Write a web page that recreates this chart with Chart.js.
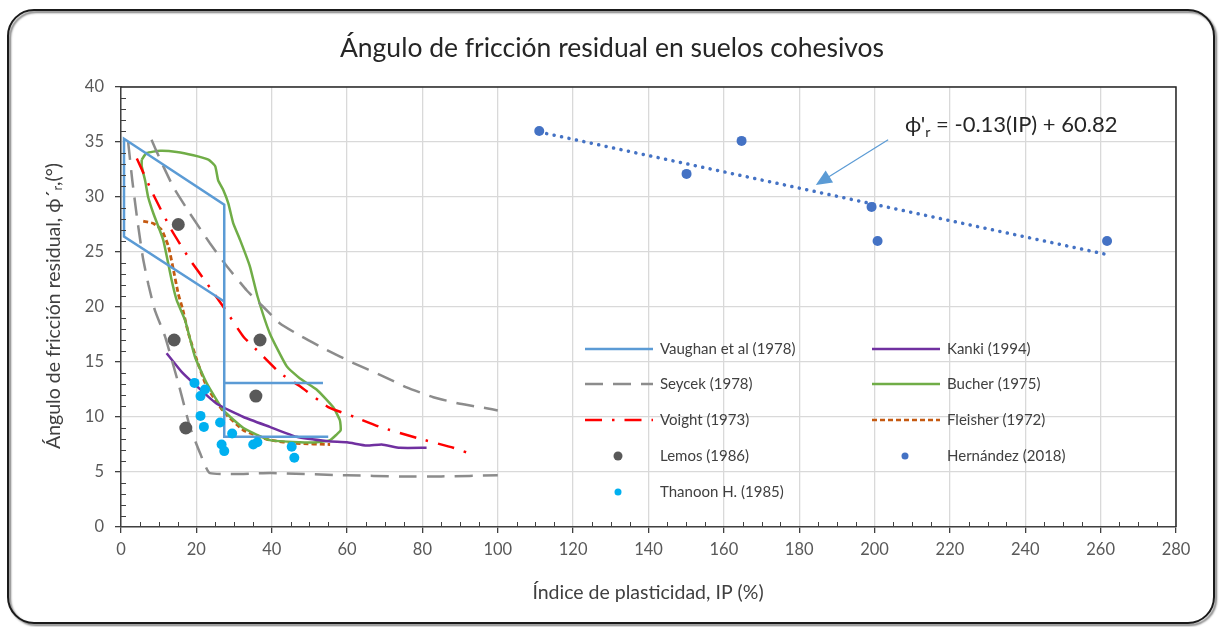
<!DOCTYPE html>
<html lang="es">
<head>
<meta charset="utf-8">
<title>Ángulo de fricción residual</title>
<script src="https://cdn.jsdelivr.net/npm/chart.js@4.4.1/dist/chart.umd.min.js"></script>
<style>
  html, body { margin: 0; padding: 0; background: #fff; }
  canvas { display: block; }
</style>
</head>
<body>
<canvas id="friccion" width="1220" height="627"></canvas>
<script>
// curvas de referencia [IP, phi'r]
const vaughan = [[55, 8.2], [27.4, 8.2], [27.4, 29.3], [0.8, 35.3], [0.8, 26.4], [27.4, 20.5], null, [27.4, 13.1], [53.6, 13.1]];
const seycekSup = [[8.1, 35.2], [10.4, 33.4], [13.9, 30.9], [18.3, 28.5], [23.6, 25.8], [28.1, 23.7], [33.4, 21.5], [37.8, 20.0], [42.2, 18.5], [48, 17.3], [54.6, 16.1], [61.7, 14.9], [69.6, 13.7], [75.8, 12.7], [82.9, 11.8], [90, 11.2], [97, 10.8], [100, 10.6]];
const seycekInf = [[1.9, 35], [3, 31.5], [4.3, 28], [5.8, 24.5], [7.3, 22], [9, 19.7], [11.7, 17.3], [15.2, 13.1], [18.3, 9.1], [21, 6.7], [23.6, 4.9], [40, 4.9], [60, 4.7], [74, 4.6], [85, 4.6], [100, 4.7]];
const voight = [[4.2, 33.5], [8.6, 30.2], [13.4, 27.0], [18.3, 24.3], [22.7, 22.2], [27.2, 20.0], [32.5, 17.3], [36.9, 15.8], [42.2, 14.0], [47.5, 12.8], [55, 10.9], [62, 10.0], [68.7, 9.1], [78.5, 8.1], [88.2, 7.2], [94, 6.5]];
const fleisher = [[5.9, 27.8], [8.6, 27.6], [10.8, 27.0], [12.6, 25.5], [13.9, 23.4], [15.2, 21.2], [16.3, 19.9], [17.9, 17.6], [20.1, 15.2], [22.7, 12.8], [27.2, 10.5], [32.5, 8.8], [39.5, 7.9], [46.6, 7.6], [55.5, 7.5]];
const bucher = [[5.5, 33.4], [6.8, 34], [10.4, 34.2], [14.8, 34.1], [19.2, 33.8], [23.2, 33.4], [25, 32.8], [25.8, 31.5], [27.2, 30.6], [28.5, 29.4], [29.8, 27.6], [31.6, 26.1], [34.2, 23.7], [36.2, 21], [39.5, 17.6], [44, 14.6], [47.5, 13.5], [51.9, 12.5], [56.3, 10.9], [58.1, 9.7], [58.3, 8.8], [57.2, 8.4], [55.5, 7.9], [51.9, 7.7], [47.5, 7.7], [39.5, 7.9], [32.5, 9], [27.2, 10.6], [22.7, 13.1], [19.6, 15.5], [17, 18.8], [14.8, 20.6], [13.4, 22.5], [11.2, 26.1], [8.6, 28.5], [7.2, 30], [6.4, 31.5], [5.5, 32.8], [5.5, 33.4]];
const kanki = [[12.1, 15.8], [16.1, 14.1], [20.1, 12.8], [25.4, 11.2], [32.5, 10], [39.5, 9.1], [46.6, 8.2], [55, 7.8], [60, 7.7], [65.2, 7.4], [69.2, 7.5], [74, 7.2], [81.1, 7.2]];

// ensayos
const lemos = [[15.2, 27.5], [14.1, 17], [36.9, 17], [35.8, 11.9], [17.2, 9.0]];
const thanoon = [[19.5, 13.1], [22.3, 12.5], [21.1, 11.9], [21.1, 10.1], [22, 9.1], [26.3, 9.5], [29.5, 8.5], [26.7, 7.5], [27.4, 6.9], [35.1, 7.5], [36.2, 7.7], [45.3, 7.3], [46, 6.3]];
const hernandez = [[111, 36], [150.1, 32.1], [164.7, 35.1], [199.2, 29.1], [200.8, 26], [261.7, 26]];

const xTicks = [0, 20, 40, 60, 80, 100, 120, 140, 160, 180, 200, 220, 240, 260, 280];
const yTicks = [0, 5, 10, 15, 20, 25, 30, 35, 40];

const FONT = 'Lato, "Open Sans", sans-serif';

const toPts = arr => arr.map(p => p ? { x: p[0], y: p[1] } : { x: 27.4, y: null });

// recta de ajuste por mínimos cuadrados sobre los puntos de Hernández
function trendLine(pts) {
  const n = pts.length;
  const mx = pts.reduce((s, p) => s + p[0], 0) / n;
  const my = pts.reduce((s, p) => s + p[1], 0) / n;
  let sxy = 0, sxx = 0;
  pts.forEach(p => { sxy += (p[0] - mx) * (p[1] - my); sxx += (p[0] - mx) ** 2; });
  const m = sxy / sxx, b = my - m * mx;
  const xs = pts.map(p => p[0]);
  const x0 = Math.min(...xs), x1 = Math.max(...xs);
  return [[x0, m * x0 + b], [x1, m * x1 + b]];
}

const lineDs = (label, data, color, dash, extra) => Object.assign({
  label, data: toPts(data), showLine: true, borderColor: color, borderWidth: 2.5,
  borderDash: dash, pointRadius: 0, fill: false, tension: 0.15, order: 2
}, extra || {});

const dotDs = (label, data, color, r) => ({
  label, data: toPts(data), showLine: false, backgroundColor: color, borderColor: color,
  pointRadius: r, pointBorderWidth: 0, order: 1
});

const datasets = [
  lineDs('Vaughan et al (1978)', vaughan, '#5b9bd5', [], { tension: 0 }),
  lineDs('Seycek (1978)', seycekSup, '#8c8c8c', [18, 10]),
  lineDs('Seycek inf', seycekInf, '#8c8c8c', [18, 10]),
  lineDs('Voight (1973)', voight, '#ff0000', [17, 10, 2.5, 10]),
  lineDs('Kanki (1994)', kanki, '#7030a0', []),
  lineDs('Bucher (1975)', bucher, '#70ad47', []),
  lineDs('Fleisher (1972)', fleisher, '#c55a11', [5, 3], { borderWidth: 2.8 }),
  lineDs('Tendencia', trendLine(hernandez), '#4472c4', [0.1, 7.5], { borderWidth: 3.5, borderCapStyle: 'round', tension: 0 }),
  dotDs('Lemos (1986)', lemos, '#595959', 6.5),
  dotDs('Thanoon H. (1985)', thanoon, '#00b0f0', 5),
  dotDs('Hernández (2018)', hernandez, '#4472c4', 5)
];

const legendItems = [
  { text: 'Vaughan et al (1978)', col: 0, row: 0, color: '#5b9bd5', dash: [] },
  { text: 'Seycek (1978)', col: 0, row: 1, color: '#8c8c8c', dash: [18, 10] },
  { text: 'Voight (1973)', col: 0, row: 2, color: '#ff0000', dash: [17, 10, 2.5, 10] },
  { text: 'Lemos (1986)', col: 0, row: 3, color: '#595959', dot: 4.5 },
  { text: 'Thanoon H. (1985)', col: 0, row: 4, color: '#00b0f0', dot: 3.5 },
  { text: 'Kanki (1994)', col: 1, row: 0, color: '#7030a0', dash: [] },
  { text: 'Bucher (1975)', col: 1, row: 1, color: '#70ad47', dash: [] },
  { text: 'Fleisher (1972)', col: 1, row: 2, color: '#c55a11', dash: [5, 3] },
  { text: 'Hernández (2018)', col: 1, row: 3, color: '#4472c4', dot: 3.5 }
];

// texto con subíndice: partes [texto, esSub]
function drawParts(ctx, parts, x, y, size) {
  let cx = x;
  parts.forEach(([t, sub]) => {
    ctx.font = (sub ? size * 0.65 : size) + 'px ' + FONT;
    ctx.fillText(t, cx, sub ? y + size * 0.22 : y);
    cx += ctx.measureText(t).width;
  });
  return cx - x;
}
function partsWidth(ctx, parts, size) {
  let w = 0;
  parts.forEach(([t, sub]) => {
    ctx.font = (sub ? size * 0.65 : size) + 'px ' + FONT;
    w += ctx.measureText(t).width;
  });
  return w;
}

const decoPlugin = {
  id: 'deco',
  beforeDraw(chart) {
    const ctx = chart.ctx;
    ctx.save();
    ctx.fillStyle = '#fff';
    ctx.fillRect(0, 0, chart.width, chart.height);
    ctx.restore();
  },
  afterDatasetsDraw(chart) {
    const { ctx, chartArea: a, scales: { x, y } } = chart;
    ctx.save();

    // marco del área de trazado
    ctx.strokeStyle = '#262626';
    ctx.lineWidth = 1.5;
    ctx.beginPath();
    ctx.moveTo(a.left, a.top); ctx.lineTo(a.right, a.top); ctx.lineTo(a.right, a.bottom);
    ctx.stroke();

    // marcas menores
    ctx.strokeStyle = '#404040';
    ctx.lineWidth = 1;
    for (let v = 1; v < 40; v++) {
      if (v % 5 === 0) continue;
      const py = Math.round(y.getPixelForValue(v)) + 0.5;
      ctx.beginPath(); ctx.moveTo(a.left, py); ctx.lineTo(a.left + 5, py); ctx.stroke();
    }
    for (let v = 5; v < 280; v += 5) {
      if (v % 20 === 0) continue;
      const px = Math.round(x.getPixelForValue(v)) + 0.5;
      ctx.beginPath(); ctx.moveTo(px, a.bottom); ctx.lineTo(px, a.bottom - 5); ctx.stroke();
    }

    // leyenda
    ctx.font = '15px ' + FONT;
    ctx.textBaseline = 'middle';
    ctx.fillStyle = '#404040';
    const colX = [585, 872], rowY = [349, 384, 420, 456, 492];
    legendItems.forEach(it => {
      const lx = colX[it.col], ly = rowY[it.row];
      if (it.dot) {
        ctx.fillStyle = it.color;
        ctx.beginPath(); ctx.arc(lx + 33, ly, it.dot, 0, Math.PI * 2); ctx.fill();
      } else {
        ctx.strokeStyle = it.color;
        ctx.lineWidth = 2.5;
        ctx.setLineDash(it.dash);
        ctx.beginPath(); ctx.moveTo(lx, ly); ctx.lineTo(lx + 68, ly); ctx.stroke();
        ctx.setLineDash([]);
      }
      ctx.fillStyle = '#404040';
      ctx.fillText(it.text, lx + 75, ly);
    });

    // flecha hacia la recta de ajuste
    const tx = x.getPixelForValue(203.6), ty = y.getPixelForValue(35.2);
    const hx = x.getPixelForValue(184.4), hy = y.getPixelForValue(31.1);
    const ang = Math.atan2(hy - ty, hx - tx);
    ctx.strokeStyle = '#5b9bd5';
    ctx.fillStyle = '#5b9bd5';
    ctx.lineWidth = 1.2;
    ctx.beginPath();
    ctx.moveTo(tx, ty);
    ctx.lineTo(hx - 14 * Math.cos(ang), hy - 14 * Math.sin(ang));
    ctx.stroke();
    ctx.beginPath();
    ctx.moveTo(hx, hy);
    ctx.lineTo(hx - 16 * Math.cos(ang) + 7 * Math.sin(ang), hy - 16 * Math.sin(ang) - 7 * Math.cos(ang));
    ctx.lineTo(hx - 16 * Math.cos(ang) - 7 * Math.sin(ang), hy - 16 * Math.sin(ang) + 7 * Math.cos(ang));
    ctx.closePath();
    ctx.fill();

    // ecuación
    ctx.fillStyle = '#262626';
    ctx.textBaseline = 'alphabetic';
    drawParts(ctx, [["ϕ'", false], ['r', true], [' = -0.13(IP) + 60.82', false]], 905, 132, 22);

    ctx.restore();
  },
  afterDraw(chart) {
    const ctx = chart.ctx;
    ctx.save();

    // título
    ctx.fillStyle = '#262626';
    ctx.font = '26.5px ' + FONT;
    ctx.textAlign = 'center';
    ctx.textBaseline = 'middle';
    ctx.fillText('Ángulo de fricción residual en suelos cohesivos', 612, 48);

    // títulos de ejes
    ctx.fillStyle = '#404040';
    ctx.font = '19.5px ' + FONT;
    ctx.fillText('Índice de plasticidad, IP (%)', 648, 593);

    const yParts = [['Ángulo de fricción residual, ϕ´', false], ['r', true], [',(°)', false]];
    const w = partsWidth(ctx, yParts, 19.5);
    ctx.translate(54, 306);
    ctx.rotate(-Math.PI / 2);
    ctx.textAlign = 'left';
    drawParts(ctx, yParts, -w / 2, 0, 19.5);
    ctx.restore();

    // marco exterior redondeado
    ctx.save();
    ctx.strokeStyle = '#1a1a1a';
    ctx.lineWidth = 2;
    ctx.shadowColor = 'rgba(0,0,0,0.55)';
    ctx.shadowOffsetX = 2;
    ctx.shadowOffsetY = 2;
    ctx.shadowBlur = 2;
    ctx.beginPath();
    ctx.roundRect(8, 10, 1206, 613, 26);
    ctx.stroke();
    ctx.restore();
  }
};

new Chart(document.getElementById('friccion'), {
  type: 'scatter',
  data: { datasets },
  options: {
    responsive: false,
    animation: false,
    devicePixelRatio: 1,
    layout: { padding: { top: 87, right: 44, left: 0, bottom: 0 } },
    plugins: { legend: { display: false }, tooltip: { enabled: false }, title: { display: false } },
    scales: {
      x: {
        type: 'linear', min: 0, max: 280,
        afterFit(s) { s.height = 100; },
        afterBuildTicks(s) { s.ticks = xTicks.map(v => ({ value: v })); },
        ticks: { color: '#595959', font: { family: FONT, size: 16.5 }, padding: 7, maxRotation: 0 },
        grid: { color: '#d9d9d9', lineWidth: 1.3, tickColor: '#404040', tickLength: 6 },
        border: { display: true, color: '#404040', width: 1.5 }
      },
      y: {
        type: 'linear', min: 0, max: 40,
        afterFit(s) { s.width = 121; },
        afterBuildTicks(s) { s.ticks = yTicks.map(v => ({ value: v })); },
        ticks: { color: '#595959', font: { family: FONT, size: 16.5 }, padding: 11 },
        grid: { color: '#d9d9d9', lineWidth: 1.3, tickColor: '#404040', tickLength: 6 },
        border: { display: true, color: '#404040', width: 1.5 }
      }
    }
  },
  plugins: [decoPlugin]
});
</script>
</body>
</html>
